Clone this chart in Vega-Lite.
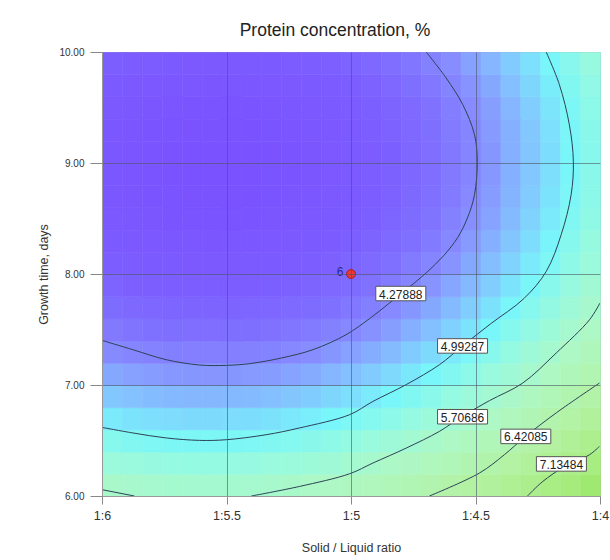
{
"$schema":"https://vega.github.io/schema/vega-lite/v6.json",
"width":498,"height":444,
"autosize":{"type":"none"},
"padding":{"left":102,"top":52,"right":10,"bottom":64},
"title":{"text":"Protein concentration, %","fontSize":17.5,"fontWeight":"normal","color":"#222222","offset":8,"dx":-16},
"config":{"font":"Liberation Sans","view":{"stroke":"#aaaaaa"}},
"datasets":{
"heat":[
{"x":5.92,"y":6,"z":5.63},{"x":5.84,"y":6,"z":5.59},{"x":5.76,"y":6,"z":5.56},{"x":5.68,"y":6,"z":5.55},{"x":5.6,"y":6,"z":5.54},{"x":5.52,"y":6,"z":5.54},{"x":5.44,"y":6,"z":5.55},{"x":5.36,"y":6,"z":5.56},{"x":5.28,"y":6,"z":5.59},{"x":5.2,"y":6,"z":5.63},{"x":5.12,"y":6,"z":5.68},{"x":5.04,"y":6,"z":5.73},{"x":4.96,"y":6,"z":5.80},{"x":4.88,"y":6,"z":5.87},{"x":4.8,"y":6,"z":5.96},{"x":4.72,"y":6,"z":6.05},{"x":4.64,"y":6,"z":6.15},{"x":4.56,"y":6,"z":6.26},{"x":4.48,"y":6,"z":6.39},{"x":4.4,"y":6,"z":6.52},{"x":4.32,"y":6,"z":6.66},{"x":4.24,"y":6,"z":6.81},{"x":4.16,"y":6,"z":6.96},{"x":4.08,"y":6,"z":7.13},{"x":4,"y":6,"z":7.31},
{"x":5.92,"y":6.2,"z":5.36},{"x":5.84,"y":6.2,"z":5.32},{"x":5.76,"y":6.2,"z":5.29},{"x":5.68,"y":6.2,"z":5.27},{"x":5.6,"y":6.2,"z":5.26},{"x":5.52,"y":6.2,"z":5.26},{"x":5.44,"y":6.2,"z":5.27},{"x":5.36,"y":6.2,"z":5.29},{"x":5.28,"y":6.2,"z":5.32},{"x":5.2,"y":6.2,"z":5.35},{"x":5.12,"y":6.2,"z":5.40},{"x":5.04,"y":6.2,"z":5.45},{"x":4.96,"y":6.2,"z":5.52},{"x":4.88,"y":6.2,"z":5.59},{"x":4.8,"y":6.2,"z":5.68},{"x":4.72,"y":6.2,"z":5.77},{"x":4.64,"y":6.2,"z":5.87},{"x":4.56,"y":6.2,"z":5.98},{"x":4.48,"y":6.2,"z":6.11},{"x":4.4,"y":6.2,"z":6.23},{"x":4.32,"y":6.2,"z":6.37},{"x":4.24,"y":6.2,"z":6.52},{"x":4.16,"y":6.2,"z":6.68},{"x":4.08,"y":6.2,"z":6.85},{"x":4,"y":6.2,"z":7.03},
{"x":5.92,"y":6.4,"z":5.10},{"x":5.84,"y":6.4,"z":5.06},{"x":5.76,"y":6.4,"z":5.03},{"x":5.68,"y":6.4,"z":5.01},{"x":5.6,"y":6.4,"z":5.00},{"x":5.52,"y":6.4,"z":5.00},{"x":5.44,"y":6.4,"z":5.01},{"x":5.36,"y":6.4,"z":5.03},{"x":5.28,"y":6.4,"z":5.06},{"x":5.2,"y":6.4,"z":5.09},{"x":5.12,"y":6.4,"z":5.14},{"x":5.04,"y":6.4,"z":5.19},{"x":4.96,"y":6.4,"z":5.26},{"x":4.88,"y":6.4,"z":5.33},{"x":4.8,"y":6.4,"z":5.42},{"x":4.72,"y":6.4,"z":5.51},{"x":4.64,"y":6.4,"z":5.61},{"x":4.56,"y":6.4,"z":5.72},{"x":4.48,"y":6.4,"z":5.84},{"x":4.4,"y":6.4,"z":5.97},{"x":4.32,"y":6.4,"z":6.11},{"x":4.24,"y":6.4,"z":6.26},{"x":4.16,"y":6.4,"z":6.42},{"x":4.08,"y":6.4,"z":6.59},{"x":4,"y":6.4,"z":6.76},
{"x":5.92,"y":6.6,"z":4.87},{"x":5.84,"y":6.6,"z":4.83},{"x":5.76,"y":6.6,"z":4.80},{"x":5.68,"y":6.6,"z":4.78},{"x":5.6,"y":6.6,"z":4.77},{"x":5.52,"y":6.6,"z":4.77},{"x":5.44,"y":6.6,"z":4.78},{"x":5.36,"y":6.6,"z":4.79},{"x":5.28,"y":6.6,"z":4.82},{"x":5.2,"y":6.6,"z":4.86},{"x":5.12,"y":6.6,"z":4.90},{"x":5.04,"y":6.6,"z":4.96},{"x":4.96,"y":6.6,"z":5.02},{"x":4.88,"y":6.6,"z":5.09},{"x":4.8,"y":6.6,"z":5.18},{"x":4.72,"y":6.6,"z":5.27},{"x":4.64,"y":6.6,"z":5.37},{"x":4.56,"y":6.6,"z":5.48},{"x":4.48,"y":6.6,"z":5.60},{"x":4.4,"y":6.6,"z":5.73},{"x":4.32,"y":6.6,"z":5.87},{"x":4.24,"y":6.6,"z":6.02},{"x":4.16,"y":6.6,"z":6.18},{"x":4.08,"y":6.6,"z":6.34},{"x":4,"y":6.6,"z":6.52},
{"x":5.92,"y":6.8,"z":4.65},{"x":5.84,"y":6.8,"z":4.61},{"x":5.76,"y":6.8,"z":4.58},{"x":5.68,"y":6.8,"z":4.56},{"x":5.6,"y":6.8,"z":4.55},{"x":5.52,"y":6.8,"z":4.55},{"x":5.44,"y":6.8,"z":4.56},{"x":5.36,"y":6.8,"z":4.57},{"x":5.28,"y":6.8,"z":4.60},{"x":5.2,"y":6.8,"z":4.64},{"x":5.12,"y":6.8,"z":4.68},{"x":5.04,"y":6.8,"z":4.74},{"x":4.96,"y":6.8,"z":4.80},{"x":4.88,"y":6.8,"z":4.87},{"x":4.8,"y":6.8,"z":4.96},{"x":4.72,"y":6.8,"z":5.05},{"x":4.64,"y":6.8,"z":5.15},{"x":4.56,"y":6.8,"z":5.26},{"x":4.48,"y":6.8,"z":5.38},{"x":4.4,"y":6.8,"z":5.51},{"x":4.32,"y":6.8,"z":5.65},{"x":4.24,"y":6.8,"z":5.79},{"x":4.16,"y":6.8,"z":5.95},{"x":4.08,"y":6.8,"z":6.12},{"x":4,"y":6.8,"z":6.29},
{"x":5.92,"y":7,"z":4.46},{"x":5.84,"y":7,"z":4.42},{"x":5.76,"y":7,"z":4.39},{"x":5.68,"y":7,"z":4.37},{"x":5.6,"y":7,"z":4.36},{"x":5.52,"y":7,"z":4.35},{"x":5.44,"y":7,"z":4.36},{"x":5.36,"y":7,"z":4.38},{"x":5.28,"y":7,"z":4.40},{"x":5.2,"y":7,"z":4.44},{"x":5.12,"y":7,"z":4.48},{"x":5.04,"y":7,"z":4.54},{"x":4.96,"y":7,"z":4.60},{"x":4.88,"y":7,"z":4.67},{"x":4.8,"y":7,"z":4.76},{"x":4.72,"y":7,"z":4.85},{"x":4.64,"y":7,"z":4.95},{"x":4.56,"y":7,"z":5.06},{"x":4.48,"y":7,"z":5.18},{"x":4.4,"y":7,"z":5.31},{"x":4.32,"y":7,"z":5.44},{"x":4.24,"y":7,"z":5.59},{"x":4.16,"y":7,"z":5.75},{"x":4.08,"y":7,"z":5.91},{"x":4,"y":7,"z":6.09},
{"x":5.92,"y":7.2,"z":4.28},{"x":5.84,"y":7.2,"z":4.24},{"x":5.76,"y":7.2,"z":4.21},{"x":5.68,"y":7.2,"z":4.19},{"x":5.6,"y":7.2,"z":4.18},{"x":5.52,"y":7.2,"z":4.18},{"x":5.44,"y":7.2,"z":4.18},{"x":5.36,"y":7.2,"z":4.20},{"x":5.28,"y":7.2,"z":4.22},{"x":5.2,"y":7.2,"z":4.26},{"x":5.12,"y":7.2,"z":4.30},{"x":5.04,"y":7.2,"z":4.36},{"x":4.96,"y":7.2,"z":4.42},{"x":4.88,"y":7.2,"z":4.49},{"x":4.8,"y":7.2,"z":4.57},{"x":4.72,"y":7.2,"z":4.67},{"x":4.64,"y":7.2,"z":4.77},{"x":4.56,"y":7.2,"z":4.87},{"x":4.48,"y":7.2,"z":4.99},{"x":4.4,"y":7.2,"z":5.12},{"x":4.32,"y":7.2,"z":5.26},{"x":4.24,"y":7.2,"z":5.41},{"x":4.16,"y":7.2,"z":5.56},{"x":4.08,"y":7.2,"z":5.73},{"x":4,"y":7.2,"z":5.90},
{"x":5.92,"y":7.4,"z":4.13},{"x":5.84,"y":7.4,"z":4.09},{"x":5.76,"y":7.4,"z":4.06},{"x":5.68,"y":7.4,"z":4.03},{"x":5.6,"y":7.4,"z":4.02},{"x":5.52,"y":7.4,"z":4.02},{"x":5.44,"y":7.4,"z":4.03},{"x":5.36,"y":7.4,"z":4.04},{"x":5.28,"y":7.4,"z":4.07},{"x":5.2,"y":7.4,"z":4.10},{"x":5.12,"y":7.4,"z":4.14},{"x":5.04,"y":7.4,"z":4.20},{"x":4.96,"y":7.4,"z":4.26},{"x":4.88,"y":7.4,"z":4.33},{"x":4.8,"y":7.4,"z":4.41},{"x":4.72,"y":7.4,"z":4.50},{"x":4.64,"y":7.4,"z":4.60},{"x":4.56,"y":7.4,"z":4.71},{"x":4.48,"y":7.4,"z":4.83},{"x":4.4,"y":7.4,"z":4.96},{"x":4.32,"y":7.4,"z":5.10},{"x":4.24,"y":7.4,"z":5.24},{"x":4.16,"y":7.4,"z":5.40},{"x":4.08,"y":7.4,"z":5.57},{"x":4,"y":7.4,"z":5.74},
{"x":5.92,"y":7.6,"z":3.99},{"x":5.84,"y":7.6,"z":3.95},{"x":5.76,"y":7.6,"z":3.92},{"x":5.68,"y":7.6,"z":3.90},{"x":5.6,"y":7.6,"z":3.88},{"x":5.52,"y":7.6,"z":3.88},{"x":5.44,"y":7.6,"z":3.89},{"x":5.36,"y":7.6,"z":3.90},{"x":5.28,"y":7.6,"z":3.93},{"x":5.2,"y":7.6,"z":3.96},{"x":5.12,"y":7.6,"z":4.00},{"x":5.04,"y":7.6,"z":4.06},{"x":4.96,"y":7.6,"z":4.12},{"x":4.88,"y":7.6,"z":4.19},{"x":4.8,"y":7.6,"z":4.27},{"x":4.72,"y":7.6,"z":4.36},{"x":4.64,"y":7.6,"z":4.46},{"x":4.56,"y":7.6,"z":4.57},{"x":4.48,"y":7.6,"z":4.69},{"x":4.4,"y":7.6,"z":4.82},{"x":4.32,"y":7.6,"z":4.95},{"x":4.24,"y":7.6,"z":5.10},{"x":4.16,"y":7.6,"z":5.25},{"x":4.08,"y":7.6,"z":5.42},{"x":4,"y":7.6,"z":5.59},
{"x":5.92,"y":7.8,"z":3.87},{"x":5.84,"y":7.8,"z":3.83},{"x":5.76,"y":7.8,"z":3.80},{"x":5.68,"y":7.8,"z":3.78},{"x":5.6,"y":7.8,"z":3.77},{"x":5.52,"y":7.8,"z":3.76},{"x":5.44,"y":7.8,"z":3.77},{"x":5.36,"y":7.8,"z":3.78},{"x":5.28,"y":7.8,"z":3.81},{"x":5.2,"y":7.8,"z":3.84},{"x":5.12,"y":7.8,"z":3.88},{"x":5.04,"y":7.8,"z":3.94},{"x":4.96,"y":7.8,"z":4.00},{"x":4.88,"y":7.8,"z":4.07},{"x":4.8,"y":7.8,"z":4.15},{"x":4.72,"y":7.8,"z":4.24},{"x":4.64,"y":7.8,"z":4.34},{"x":4.56,"y":7.8,"z":4.45},{"x":4.48,"y":7.8,"z":4.56},{"x":4.4,"y":7.8,"z":4.69},{"x":4.32,"y":7.8,"z":4.83},{"x":4.24,"y":7.8,"z":4.97},{"x":4.16,"y":7.8,"z":5.13},{"x":4.08,"y":7.8,"z":5.29},{"x":4,"y":7.8,"z":5.47},
{"x":5.92,"y":8,"z":3.78},{"x":5.84,"y":8,"z":3.74},{"x":5.76,"y":8,"z":3.70},{"x":5.68,"y":8,"z":3.68},{"x":5.6,"y":8,"z":3.67},{"x":5.52,"y":8,"z":3.66},{"x":5.44,"y":8,"z":3.67},{"x":5.36,"y":8,"z":3.68},{"x":5.28,"y":8,"z":3.71},{"x":5.2,"y":8,"z":3.74},{"x":5.12,"y":8,"z":3.78},{"x":5.04,"y":8,"z":3.84},{"x":4.96,"y":8,"z":3.90},{"x":4.88,"y":8,"z":3.97},{"x":4.8,"y":8,"z":4.05},{"x":4.72,"y":8,"z":4.14},{"x":4.64,"y":8,"z":4.24},{"x":4.56,"y":8,"z":4.34},{"x":4.48,"y":8,"z":4.46},{"x":4.4,"y":8,"z":4.59},{"x":4.32,"y":8,"z":4.72},{"x":4.24,"y":8,"z":4.87},{"x":4.16,"y":8,"z":5.02},{"x":4.08,"y":8,"z":5.19},{"x":4,"y":8,"z":5.36},
{"x":5.92,"y":8.2,"z":3.70},{"x":5.84,"y":8.2,"z":3.66},{"x":5.76,"y":8.2,"z":3.63},{"x":5.68,"y":8.2,"z":3.60},{"x":5.6,"y":8.2,"z":3.59},{"x":5.52,"y":8.2,"z":3.58},{"x":5.44,"y":8.2,"z":3.59},{"x":5.36,"y":8.2,"z":3.60},{"x":5.28,"y":8.2,"z":3.63},{"x":5.2,"y":8.2,"z":3.66},{"x":5.12,"y":8.2,"z":3.70},{"x":5.04,"y":8.2,"z":3.75},{"x":4.96,"y":8.2,"z":3.82},{"x":4.88,"y":8.2,"z":3.89},{"x":4.8,"y":8.2,"z":3.96},{"x":4.72,"y":8.2,"z":4.05},{"x":4.64,"y":8.2,"z":4.15},{"x":4.56,"y":8.2,"z":4.26},{"x":4.48,"y":8.2,"z":4.38},{"x":4.4,"y":8.2,"z":4.50},{"x":4.32,"y":8.2,"z":4.64},{"x":4.24,"y":8.2,"z":4.78},{"x":4.16,"y":8.2,"z":4.94},{"x":4.08,"y":8.2,"z":5.10},{"x":4,"y":8.2,"z":5.28},
{"x":5.92,"y":8.4,"z":3.64},{"x":5.84,"y":8.4,"z":3.60},{"x":5.76,"y":8.4,"z":3.57},{"x":5.68,"y":8.4,"z":3.54},{"x":5.6,"y":8.4,"z":3.53},{"x":5.52,"y":8.4,"z":3.53},{"x":5.44,"y":8.4,"z":3.53},{"x":5.36,"y":8.4,"z":3.54},{"x":5.28,"y":8.4,"z":3.57},{"x":5.2,"y":8.4,"z":3.60},{"x":5.12,"y":8.4,"z":3.64},{"x":5.04,"y":8.4,"z":3.69},{"x":4.96,"y":8.4,"z":3.75},{"x":4.88,"y":8.4,"z":3.82},{"x":4.8,"y":8.4,"z":3.90},{"x":4.72,"y":8.4,"z":3.99},{"x":4.64,"y":8.4,"z":4.09},{"x":4.56,"y":8.4,"z":4.20},{"x":4.48,"y":8.4,"z":4.31},{"x":4.4,"y":8.4,"z":4.44},{"x":4.32,"y":8.4,"z":4.57},{"x":4.24,"y":8.4,"z":4.72},{"x":4.16,"y":8.4,"z":4.87},{"x":4.08,"y":8.4,"z":5.04},{"x":4,"y":8.4,"z":5.21},
{"x":5.92,"y":8.6,"z":3.61},{"x":5.84,"y":8.6,"z":3.56},{"x":5.76,"y":8.6,"z":3.53},{"x":5.68,"y":8.6,"z":3.51},{"x":5.6,"y":8.6,"z":3.49},{"x":5.52,"y":8.6,"z":3.49},{"x":5.44,"y":8.6,"z":3.49},{"x":5.36,"y":8.6,"z":3.50},{"x":5.28,"y":8.6,"z":3.53},{"x":5.2,"y":8.6,"z":3.56},{"x":5.12,"y":8.6,"z":3.60},{"x":5.04,"y":8.6,"z":3.65},{"x":4.96,"y":8.6,"z":3.71},{"x":4.88,"y":8.6,"z":3.78},{"x":4.8,"y":8.6,"z":3.86},{"x":4.72,"y":8.6,"z":3.95},{"x":4.64,"y":8.6,"z":4.05},{"x":4.56,"y":8.6,"z":4.15},{"x":4.48,"y":8.6,"z":4.27},{"x":4.4,"y":8.6,"z":4.39},{"x":4.32,"y":8.6,"z":4.53},{"x":4.24,"y":8.6,"z":4.67},{"x":4.16,"y":8.6,"z":4.83},{"x":4.08,"y":8.6,"z":4.99},{"x":4,"y":8.6,"z":5.16},
{"x":5.92,"y":8.8,"z":3.59},{"x":5.84,"y":8.8,"z":3.55},{"x":5.76,"y":8.8,"z":3.51},{"x":5.68,"y":8.8,"z":3.49},{"x":5.6,"y":8.8,"z":3.47},{"x":5.52,"y":8.8,"z":3.47},{"x":5.44,"y":8.8,"z":3.47},{"x":5.36,"y":8.8,"z":3.48},{"x":5.28,"y":8.8,"z":3.51},{"x":5.2,"y":8.8,"z":3.54},{"x":5.12,"y":8.8,"z":3.58},{"x":5.04,"y":8.8,"z":3.63},{"x":4.96,"y":8.8,"z":3.69},{"x":4.88,"y":8.8,"z":3.76},{"x":4.8,"y":8.8,"z":3.84},{"x":4.72,"y":8.8,"z":3.92},{"x":4.64,"y":8.8,"z":4.02},{"x":4.56,"y":8.8,"z":4.13},{"x":4.48,"y":8.8,"z":4.24},{"x":4.4,"y":8.8,"z":4.37},{"x":4.32,"y":8.8,"z":4.50},{"x":4.24,"y":8.8,"z":4.65},{"x":4.16,"y":8.8,"z":4.80},{"x":4.08,"y":8.8,"z":4.96},{"x":4,"y":8.8,"z":5.14},
{"x":5.92,"y":9,"z":3.59},{"x":5.84,"y":9,"z":3.55},{"x":5.76,"y":9,"z":3.51},{"x":5.68,"y":9,"z":3.49},{"x":5.6,"y":9,"z":3.47},{"x":5.52,"y":9,"z":3.47},{"x":5.44,"y":9,"z":3.47},{"x":5.36,"y":9,"z":3.48},{"x":5.28,"y":9,"z":3.50},{"x":5.2,"y":9,"z":3.54},{"x":5.12,"y":9,"z":3.58},{"x":5.04,"y":9,"z":3.63},{"x":4.96,"y":9,"z":3.69},{"x":4.88,"y":9,"z":3.75},{"x":4.8,"y":9,"z":3.83},{"x":4.72,"y":9,"z":3.92},{"x":4.64,"y":9,"z":4.02},{"x":4.56,"y":9,"z":4.12},{"x":4.48,"y":9,"z":4.24},{"x":4.4,"y":9,"z":4.36},{"x":4.32,"y":9,"z":4.50},{"x":4.24,"y":9,"z":4.64},{"x":4.16,"y":9,"z":4.79},{"x":4.08,"y":9,"z":4.96},{"x":4,"y":9,"z":5.13},
{"x":5.92,"y":9.2,"z":3.61},{"x":5.84,"y":9.2,"z":3.57},{"x":5.76,"y":9.2,"z":3.53},{"x":5.68,"y":9.2,"z":3.51},{"x":5.6,"y":9.2,"z":3.49},{"x":5.52,"y":9.2,"z":3.49},{"x":5.44,"y":9.2,"z":3.49},{"x":5.36,"y":9.2,"z":3.50},{"x":5.28,"y":9.2,"z":3.52},{"x":5.2,"y":9.2,"z":3.55},{"x":5.12,"y":9.2,"z":3.59},{"x":5.04,"y":9.2,"z":3.64},{"x":4.96,"y":9.2,"z":3.70},{"x":4.88,"y":9.2,"z":3.77},{"x":4.8,"y":9.2,"z":3.85},{"x":4.72,"y":9.2,"z":3.94},{"x":4.64,"y":9.2,"z":4.03},{"x":4.56,"y":9.2,"z":4.14},{"x":4.48,"y":9.2,"z":4.25},{"x":4.4,"y":9.2,"z":4.38},{"x":4.32,"y":9.2,"z":4.51},{"x":4.24,"y":9.2,"z":4.65},{"x":4.16,"y":9.2,"z":4.81},{"x":4.08,"y":9.2,"z":4.97},{"x":4,"y":9.2,"z":5.14},
{"x":5.92,"y":9.4,"z":3.65},{"x":5.84,"y":9.4,"z":3.61},{"x":5.76,"y":9.4,"z":3.57},{"x":5.68,"y":9.4,"z":3.55},{"x":5.6,"y":9.4,"z":3.53},{"x":5.52,"y":9.4,"z":3.53},{"x":5.44,"y":9.4,"z":3.53},{"x":5.36,"y":9.4,"z":3.54},{"x":5.28,"y":9.4,"z":3.56},{"x":5.2,"y":9.4,"z":3.59},{"x":5.12,"y":9.4,"z":3.63},{"x":5.04,"y":9.4,"z":3.68},{"x":4.96,"y":9.4,"z":3.74},{"x":4.88,"y":9.4,"z":3.81},{"x":4.8,"y":9.4,"z":3.88},{"x":4.72,"y":9.4,"z":3.97},{"x":4.64,"y":9.4,"z":4.07},{"x":4.56,"y":9.4,"z":4.17},{"x":4.48,"y":9.4,"z":4.29},{"x":4.4,"y":9.4,"z":4.41},{"x":4.32,"y":9.4,"z":4.54},{"x":4.24,"y":9.4,"z":4.69},{"x":4.16,"y":9.4,"z":4.84},{"x":4.08,"y":9.4,"z":5.00},{"x":4,"y":9.4,"z":5.17},
{"x":5.92,"y":9.6,"z":3.71},{"x":5.84,"y":9.6,"z":3.67},{"x":5.76,"y":9.6,"z":3.63},{"x":5.68,"y":9.6,"z":3.61},{"x":5.6,"y":9.6,"z":3.59},{"x":5.52,"y":9.6,"z":3.58},{"x":5.44,"y":9.6,"z":3.59},{"x":5.36,"y":9.6,"z":3.60},{"x":5.28,"y":9.6,"z":3.62},{"x":5.2,"y":9.6,"z":3.65},{"x":5.12,"y":9.6,"z":3.69},{"x":5.04,"y":9.6,"z":3.74},{"x":4.96,"y":9.6,"z":3.80},{"x":4.88,"y":9.6,"z":3.86},{"x":4.8,"y":9.6,"z":3.94},{"x":4.72,"y":9.6,"z":4.03},{"x":4.64,"y":9.6,"z":4.12},{"x":4.56,"y":9.6,"z":4.23},{"x":4.48,"y":9.6,"z":4.34},{"x":4.4,"y":9.6,"z":4.46},{"x":4.32,"y":9.6,"z":4.60},{"x":4.24,"y":9.6,"z":4.74},{"x":4.16,"y":9.6,"z":4.89},{"x":4.08,"y":9.6,"z":5.05},{"x":4,"y":9.6,"z":5.22},
{"x":5.92,"y":9.8,"z":3.80},{"x":5.84,"y":9.8,"z":3.75},{"x":5.76,"y":9.8,"z":3.72},{"x":5.68,"y":9.8,"z":3.69},{"x":5.6,"y":9.8,"z":3.67},{"x":5.52,"y":9.8,"z":3.66},{"x":5.44,"y":9.8,"z":3.67},{"x":5.36,"y":9.8,"z":3.68},{"x":5.28,"y":9.8,"z":3.70},{"x":5.2,"y":9.8,"z":3.73},{"x":5.12,"y":9.8,"z":3.77},{"x":5.04,"y":9.8,"z":3.81},{"x":4.96,"y":9.8,"z":3.87},{"x":4.88,"y":9.8,"z":3.94},{"x":4.8,"y":9.8,"z":4.02},{"x":4.72,"y":9.8,"z":4.10},{"x":4.64,"y":9.8,"z":4.20},{"x":4.56,"y":9.8,"z":4.30},{"x":4.48,"y":9.8,"z":4.42},{"x":4.4,"y":9.8,"z":4.54},{"x":4.32,"y":9.8,"z":4.67},{"x":4.24,"y":9.8,"z":4.81},{"x":4.16,"y":9.8,"z":4.96},{"x":4.08,"y":9.8,"z":5.12},{"x":4,"y":9.8,"z":5.29}
],
"contours":[
{"c":"A","o":1,"x":4.698,"y":10},{"c":"A","o":2,"x":4.618,"y":9.766},{"c":"A","o":3,"x":4.551,"y":9.525},{"c":"A","o":4,"x":4.504,"y":9.255},{"c":"A","o":5,"x":4.493,"y":9.014},{"c":"A","o":6,"x":4.504,"y":8.714},{"c":"A","o":7,"x":4.532,"y":8.507},{"c":"A","o":8,"x":4.572,"y":8.327},{"c":"A","o":9,"x":4.628,"y":8.165},{"c":"A","o":10,"x":4.697,"y":8.012},{"c":"A","o":11,"x":4.773,"y":7.869},{"c":"A","o":12,"x":4.849,"y":7.732},{"c":"A","o":13,"x":4.926,"y":7.597},{"c":"A","o":14,"x":5.02,"y":7.453},{"c":"A","o":15,"x":5.153,"y":7.318},{"c":"A","o":16,"x":5.28,"y":7.243},{"c":"A","o":17,"x":5.408,"y":7.192},{"c":"A","o":18,"x":5.501,"y":7.177},{"c":"A","o":19,"x":5.608,"y":7.18},{"c":"A","o":20,"x":5.742,"y":7.228},{"c":"A","o":21,"x":5.876,"y":7.318},{"c":"A","o":22,"x":6,"y":7.402},
{"c":"B","o":1,"x":4.216,"y":10},{"c":"B","o":2,"x":4.163,"y":9.705},{"c":"B","o":3,"x":4.123,"y":9.344},{"c":"B","o":4,"x":4.107,"y":9.014},{"c":"B","o":5,"x":4.116,"y":8.714},{"c":"B","o":6,"x":4.156,"y":8.354},{"c":"B","o":7,"x":4.216,"y":8.023},{"c":"B","o":8,"x":4.305,"y":7.78},{"c":"B","o":9,"x":4.44,"y":7.55},{"c":"B","o":10,"x":4.552,"y":7.352},{"c":"B","o":11,"x":4.644,"y":7.184},{"c":"B","o":12,"x":4.778,"y":7.004},{"c":"B","o":13,"x":4.912,"y":6.852},{"c":"B","o":14,"x":5.006,"y":6.732},{"c":"B","o":15,"x":5.207,"y":6.613},{"c":"B","o":16,"x":5.341,"y":6.552},{"c":"B","o":17,"x":5.501,"y":6.507},{"c":"B","o":18,"x":5.608,"y":6.501},{"c":"B","o":19,"x":5.742,"y":6.523},{"c":"B","o":20,"x":5.876,"y":6.568},{"c":"B","o":21,"x":6,"y":6.618},
{"c":"C","o":1,"x":5.4,"y":6},{"c":"C","o":2,"x":5.207,"y":6.086},{"c":"C","o":3,"x":5.006,"y":6.2},{"c":"C","o":4,"x":4.912,"y":6.297},{"c":"C","o":5,"x":4.778,"y":6.432},{"c":"C","o":6,"x":4.645,"y":6.582},{"c":"C","o":7,"x":4.557,"y":6.712},{"c":"C","o":8,"x":4.444,"y":6.859},{"c":"C","o":9,"x":4.31,"y":7.018},{"c":"C","o":10,"x":4.176,"y":7.288},{"c":"C","o":11,"x":4.042,"y":7.588},{"c":"C","o":12,"x":4,"y":7.739},
{"c":"C2","o":1,"x":6,"y":6.057},{"c":"C2","o":2,"x":5.87,"y":6},
{"c":"D","o":1,"x":4.685,"y":6},{"c":"D","o":2,"x":4.484,"y":6.207},{"c":"D","o":3,"x":4.384,"y":6.372},{"c":"D","o":4,"x":4.3,"y":6.535},{"c":"D","o":5,"x":4.175,"y":6.75},{"c":"D","o":6,"x":4.002,"y":7.018},
{"c":"E","o":1,"x":4.291,"y":6},{"c":"E","o":2,"x":4.231,"y":6.129},{"c":"E","o":3,"x":4.143,"y":6.264},{"c":"E","o":4,"x":4.042,"y":6.372},{"c":"E","o":5,"x":4.002,"y":6.447}
],
"labels":[
{"x":4.8,"y":7.824,"t":"4.27888"},
{"x":4.552,"y":7.352,"t":"4.99287"},
{"x":4.552,"y":6.714,"t":"5.70686"},
{"x":4.298,"y":6.537,"t":"6.42085"},
{"x":4.155,"y":6.289,"t":"7.13484"}
],
"design":[{"x":5,"y":8,"n":"6"}]
},
"layer":[
{"data":{"name":"heat"},
 "mark":{"type":"rect","strokeWidth":0.6},
 "encoding":{
  "x":{"field":"x","type":"quantitative","bin":{"binned":true,"step":0.08},
   "scale":{"domain":[6,4],"nice":false,"zero":false},
   "axis":{"values":[6,5.5,5,4.5,4],"labelExpr":"'1:' + datum.value","title":"Solid / Liquid ratio","zindex":1,
    "grid":true,"gridColor":"#4a5560","gridOpacity":{"condition":{"test":"datum.value == 6 || datum.value == 4","value":0},"value":0.6},
    "tickSize":8,"tickColor":"#888888","domainColor":"#999999","labelFontSize":12.5,"labelColor":"#333333","labelPadding":5,"labelFlush":false,
    "titleFontSize":12.5,"titleFontWeight":"normal","titleColor":"#333333","titlePadding":20}},
  "y":{"field":"y","type":"quantitative","bin":{"binned":true,"step":0.2},
   "scale":{"domain":[6,10],"nice":false,"zero":false},
   "axis":{"values":[6,7,8,9,10],"format":".2f","title":"Growth time, days","zindex":1,
    "grid":true,"gridColor":"#4a5560","gridOpacity":{"condition":{"test":"datum.value == 6 || datum.value == 10","value":0},"value":0.6},
    "tickSize":12,"tickColor":"#888888","domainColor":"#999999","labelFontSize":10,"labelColor":"#333333","labelPadding":6,"labelFlush":false,
    "titleFontSize":12.5,"titleFontWeight":"normal","titleColor":"#333333","titlePadding":8}},
  "color":{"field":"z","type":"quantitative","legend":null,
   "scale":{"domain":[3.46,3.8,4.05,4.3,4.6,4.95,5.3,5.7,6.4,7.1,7.6],
    "range":["#7a52ff","#7c5eff","#7f70ff","#878cff","#84c0ff","#78f6fa","#98fadf","#adf8c6","#b4f2a2","#a6ec7e","#98e65c"],"clamp":true,"interpolate":"rgb"}},
  "stroke":{"field":"z","type":"quantitative","legend":null,
   "scale":{"domain":[3.46,3.8,4.05,4.3,4.6,4.95,5.3,5.7,6.4,7.1,7.6],
    "range":["#7a52ff","#7c5eff","#7f70ff","#878cff","#84c0ff","#78f6fa","#98fadf","#adf8c6","#b4f2a2","#a6ec7e","#98e65c"],"clamp":true,"interpolate":"rgb"}}
 }},
{"data":{"name":"contours"},
 "mark":{"type":"line","interpolate":"catmull-rom","strokeWidth":1,"color":"#2c4256","clip":true},
 "encoding":{
  "x":{"field":"x","type":"quantitative"},
  "y":{"field":"y","type":"quantitative"},
  "detail":{"field":"c","type":"nominal"},
  "order":{"field":"o","type":"quantitative"}
 }},
{"data":{"name":"labels"},
 "mark":{"type":"point","shape":"M-1,-0.29L1,-0.29L1,0.29L-1,0.29Z","size":2500,"filled":true,"fill":"#ffffff","stroke":"#555555","strokeWidth":1,"opacity":1},
 "encoding":{
  "x":{"field":"x","type":"quantitative"},
  "y":{"field":"y","type":"quantitative"}
 }},
{"data":{"name":"labels"},
 "mark":{"type":"text","fontSize":12,"color":"#222222","align":"center","baseline":"middle","dy":1},
 "encoding":{
  "x":{"field":"x","type":"quantitative"},
  "y":{"field":"y","type":"quantitative"},
  "text":{"field":"t","type":"nominal"}
 }},
{"data":{"name":"design"},
 "mark":{"type":"point","filled":true,"size":80,"fill":"#e8383a","stroke":"#a82020","strokeWidth":1,"opacity":1},
 "encoding":{
  "x":{"field":"x","type":"quantitative"},
  "y":{"field":"y","type":"quantitative"}
 }},
{"data":{"name":"design"},
 "mark":{"type":"text","fontSize":12,"color":"#2a2a90","align":"center","baseline":"middle","dx":-11,"dy":-2},
 "encoding":{
  "x":{"field":"x","type":"quantitative"},
  "y":{"field":"y","type":"quantitative"},
  "text":{"field":"n","type":"nominal"}
 }}
]
}
